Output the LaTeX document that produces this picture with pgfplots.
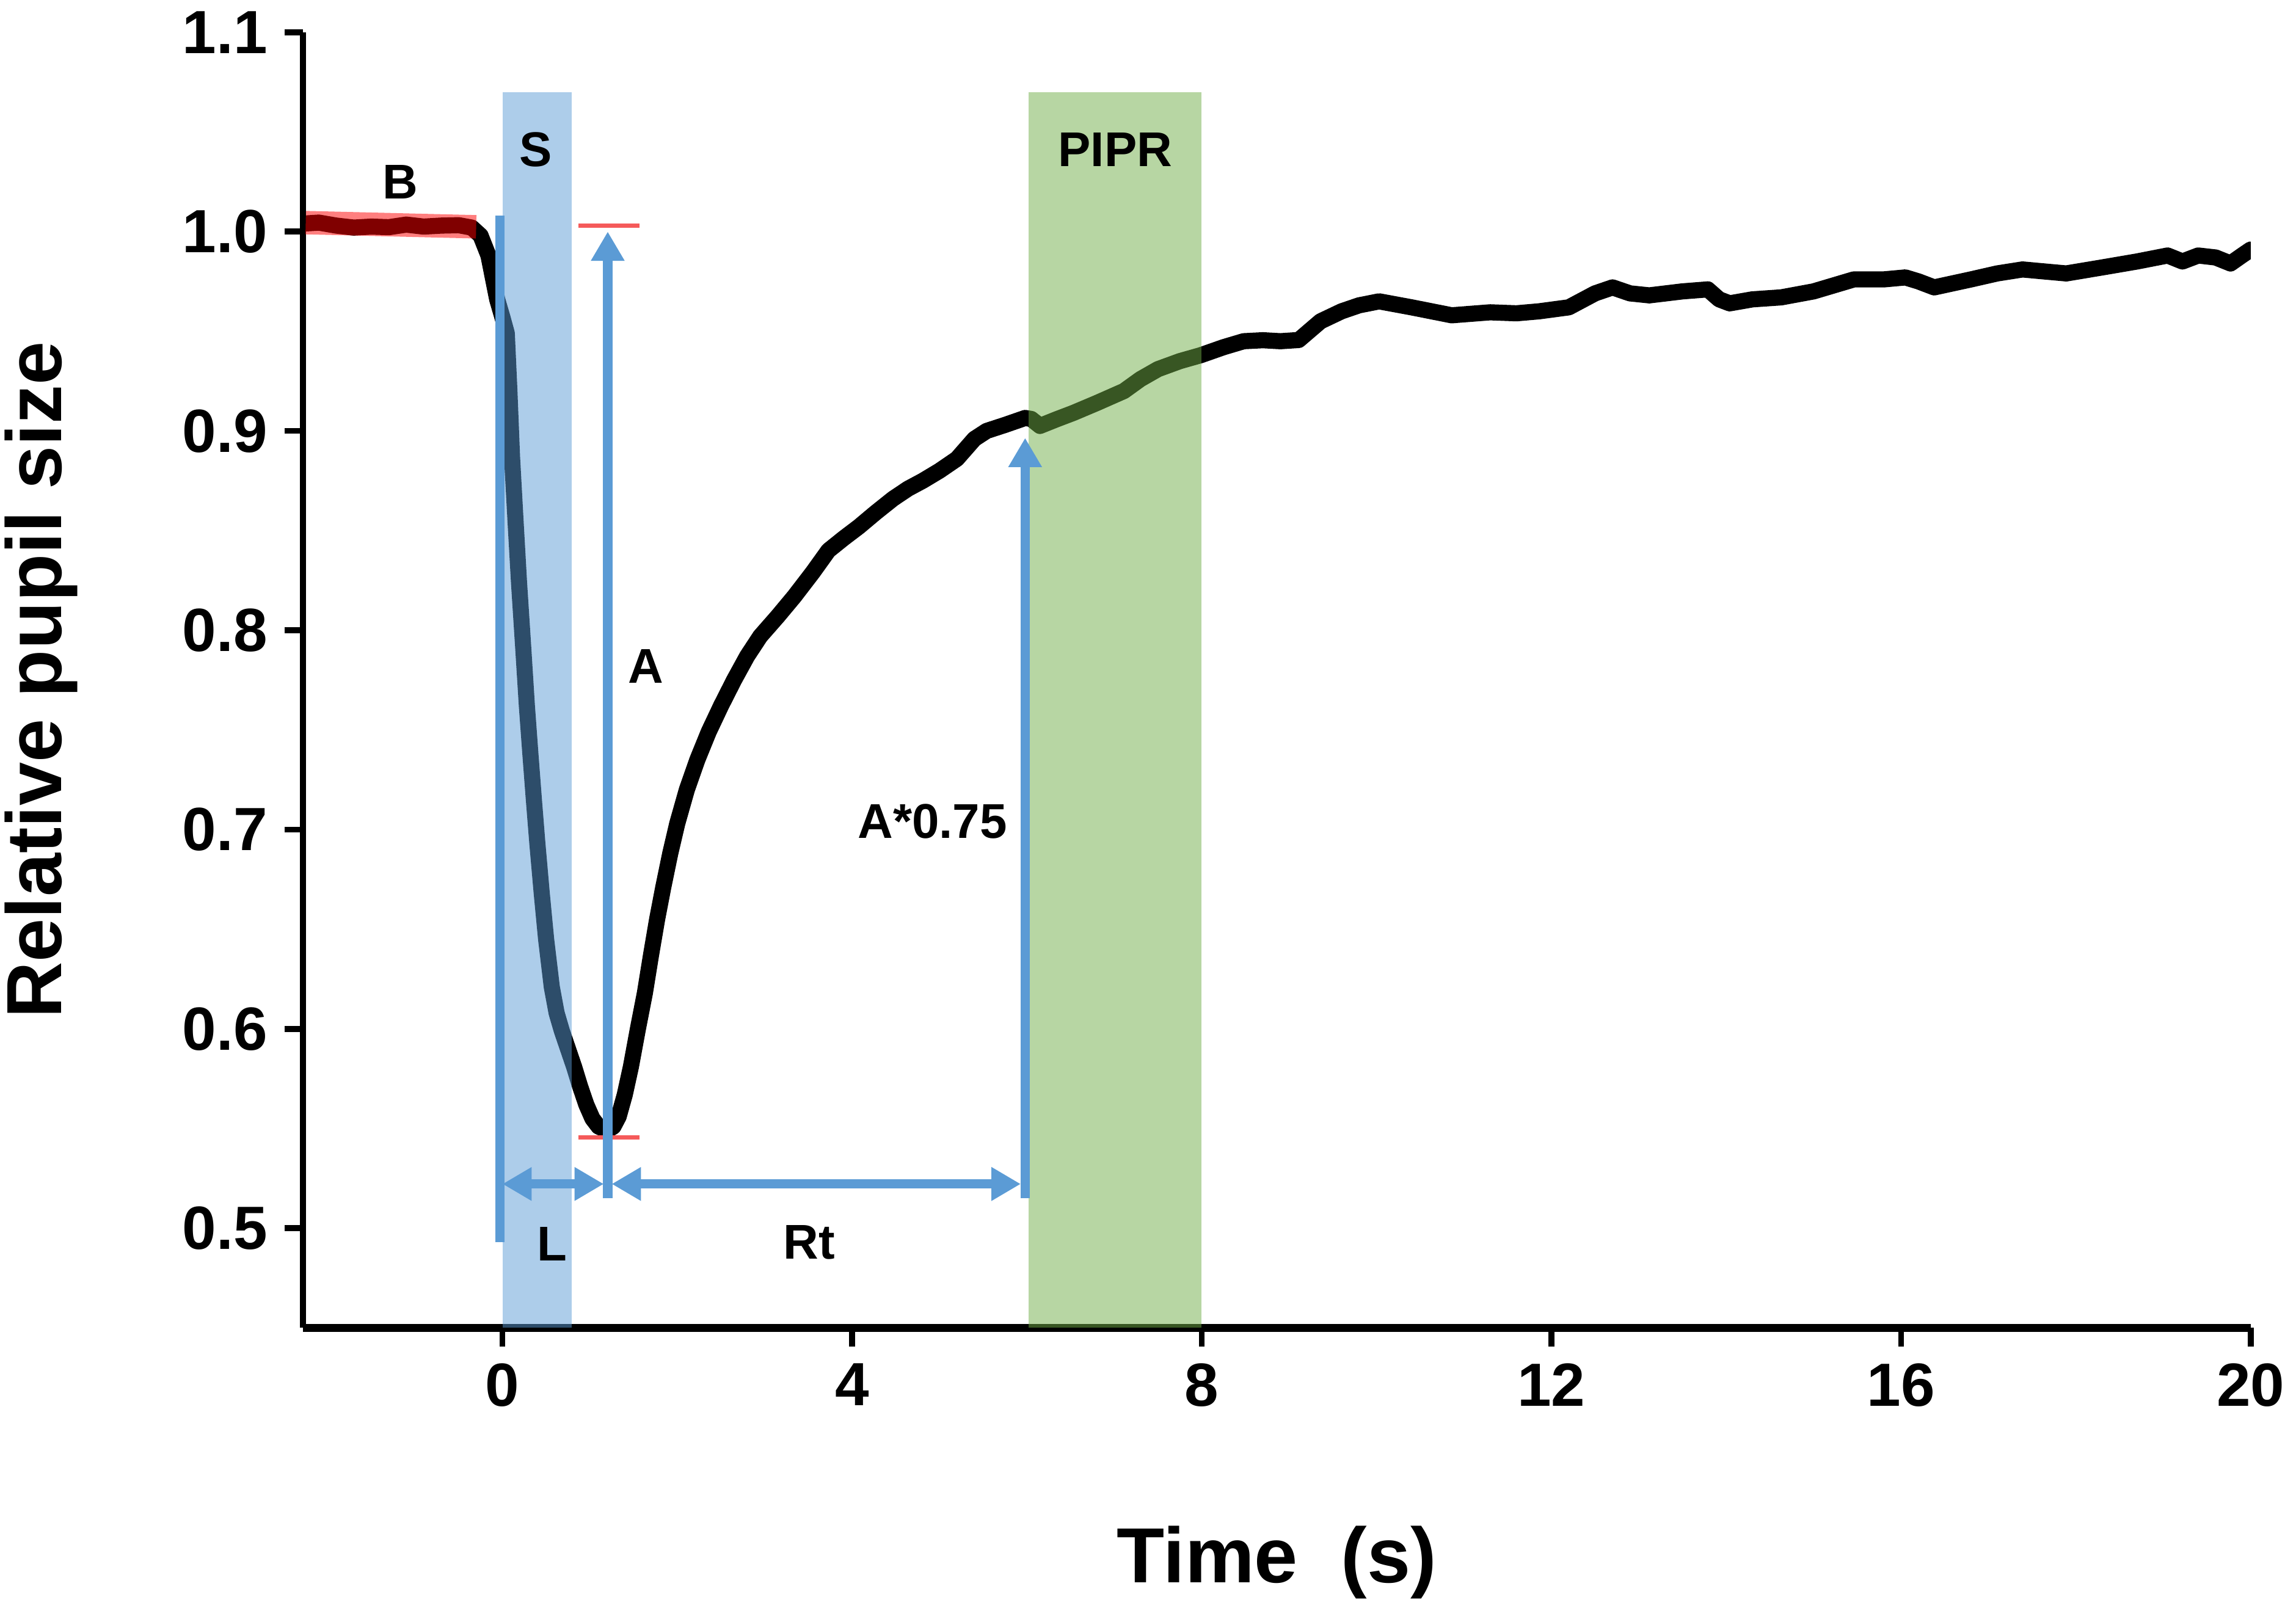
\documentclass[border=0pt]{standalone}
\usepackage{fontspec}
\setmainfont{Liberation Sans}
\usepackage{pgfplots}
\pgfplotsset{compat=1.18}
\usetikzlibrary{arrows.meta}
\definecolor{ablue}{HTML}{5B9BD5}
\definecolor{agreen}{HTML}{70AD47}
\definecolor{ared}{RGB}{245,90,90}
\begin{document}
\begin{tikzpicture}
\useasboundingbox (0,0) rectangle (470.4pt,330pt);
\begin{axis}[
  at={(62.1pt,57.9pt)}, anchor=south west,
  scale only axis, width=399pt, height=265.5pt,
  xmin=-2.28, xmax=20, ymin=0.45, ymax=1.1,
  axis lines*=left,
  x axis line style={line width=1.7pt},
  y axis line style={line width=1.3pt},
  xtick={0,4,8,12,16,20},
  ytick={0.5,0.6,0.7,0.8,0.9,1.0,1.1},
  tick align=outside, major tick length=3.8pt,
  tick style={line width=1.2pt, black},
  /pgf/number format/assume math mode=true,
  yticklabel style={/pgf/number format/fixed, /pgf/number format/fixed zerofill, /pgf/number format/precision=1},
  ticklabel style={font=\bfseries\fontsize{12.5}{15}\selectfont},
  xlabel={Time\ \ (s)}, ylabel={Relative pupil size},
  label style={font=\bfseries\fontsize{16}{19}\selectfont},
  xlabel style={at={(axis description cs:0.5,-0.1808)}, anchor=center},
  ylabel style={at={(axis description cs:-0.1346,0.5)}, anchor=center},
]
% pupil trace
\addplot[black, line width=3.3pt, line join=round, line cap=round] coordinates {
(-2.28,1.004) (-2.1,1.0045) (-1.9,1.003) (-1.7,1.002) (-1.5,1.0025) (-1.3,1.0022)
(-1.1,1.0035) (-0.9,1.0025) (-0.7,1.003) (-0.5,1.0032) (-0.35,1.002) (-0.25,0.998)
(-0.16,0.988) (-0.06,0.966) (0.0,0.957) (0.05,0.949) (0.08,0.920) (0.11,0.887)
(0.15,0.855) (0.19,0.824) (0.24,0.790) (0.28,0.762) (0.32,0.738) (0.36,0.715)
(0.40,0.693) (0.45,0.668) (0.50,0.645) (0.565,0.621) (0.62,0.608) (0.68,0.599)
(0.75,0.590) (0.82,0.581) (0.89,0.571) (0.96,0.562) (1.03,0.555) (1.10,0.551)
(1.20,0.549) (1.27,0.551) (1.33,0.556) (1.40,0.567) (1.47,0.581) (1.55,0.600)
(1.63,0.618) (1.70,0.637) (1.77,0.655) (1.84,0.671) (1.92,0.688) (2.00,0.703)
(2.11,0.720) (2.23,0.735) (2.36,0.749) (2.50,0.762) (2.65,0.775) (2.80,0.787)
(2.95,0.797) (3.15,0.807) (3.34,0.817) (3.55,0.829) (3.73,0.840) (3.90,0.846)
(4.08,0.852) (4.27,0.859) (4.47,0.866) (4.64,0.871) (4.81,0.875) (5.00,0.880)
(5.20,0.886) (5.30,0.891) (5.40,0.896) (5.54,0.900) (5.75,0.903) (5.98,0.9065)
(6.05,0.906) (6.15,0.9025) (6.35,0.906) (6.53,0.909) (6.80,0.914) (7.11,0.920)
(7.30,0.926) (7.50,0.931) (7.75,0.935) (7.99,0.938) (8.25,0.942) (8.48,0.945)
(8.7,0.9455) (8.9,0.945) (9.11,0.9456) (9.36,0.955) (9.6,0.960) (9.8,0.963)
(10.03,0.965) (10.4,0.962) (10.86,0.958) (11.3,0.9595) (11.6,0.959) (11.86,0.960)
(12.2,0.962) (12.5,0.969) (12.70,0.972) (12.9,0.969) (13.12,0.968) (13.5,0.970)
(13.79,0.971) (13.92,0.966) (14.04,0.964) (14.3,0.966) (14.63,0.967) (15.0,0.970)
(15.46,0.976) (15.8,0.976) (16.05,0.977) (16.2,0.975) (16.38,0.972) (16.8,0.976)
(17.1,0.979) (17.39,0.981) (17.89,0.979) (18.3,0.982) (18.7,0.985) (19.05,0.988)
(19.22,0.985) (19.4,0.988) (19.6,0.987) (19.77,0.984) (19.9,0.988) (20.0,0.991)
};
% baseline band
\addplot[red, opacity=0.5, line width=4.8pt] coordinates {(-2.25,1.0045) (-0.3,1.0024)};
% stimulus and PIPR windows
\addplot[fill=ablue, fill opacity=0.5, draw=none] coordinates {(0,0.45) (0.79,0.45) (0.79,1.07) (0,1.07)};
\addplot[fill=agreen, fill opacity=0.5, draw=none] coordinates {(6.02,0.45) (8.0,0.45) (8.0,1.07) (6.02,1.07)};
% red reference lines
\addplot[ared, line width=0.9pt] coordinates {(0.87,1.003) (1.57,1.003)};
\addplot[ared, line width=0.9pt] coordinates {(0.87,0.5455) (1.57,0.5455)};
% blue annotations
\addplot[ablue, line width=1.9pt] coordinates {(-0.03,0.493) (-0.03,1.008)};
\addplot[ablue, line width=1.9pt, -{Triangle[width=6.5pt,length=6pt]}] coordinates {(1.205,0.515) (1.205,1.0)};
\addplot[ablue, line width=1.9pt, -{Triangle[width=6.5pt,length=6pt]}] coordinates {(5.98,0.515) (5.98,0.8965)};
\addplot[ablue, line width=1.9pt, {Triangle[width=6.5pt,length=6pt]}-{Triangle[width=6.5pt,length=6pt]}] coordinates {(0.0,0.5222) (1.16,0.5222)};
\addplot[ablue, line width=1.9pt, {Triangle[width=6.5pt,length=6pt]}-{Triangle[width=6.5pt,length=6pt]}] coordinates {(1.25,0.5222) (5.93,0.5222)};
% labels
\node[font=\bfseries\fontsize{10}{12}\selectfont] at (axis cs:-1.17,1.025) {B};
\node[font=\bfseries\fontsize{10}{12}\selectfont] at (axis cs:0.385,1.041) {S};
\node[font=\bfseries\fontsize{10}{12}\selectfont] at (axis cs:7.01,1.041) {PIPR};
\node[font=\bfseries\fontsize{10}{12}\selectfont] at (axis cs:1.64,0.782) {A};
\node[font=\bfseries\fontsize{10}{12}\selectfont] at (axis cs:4.92,0.704) {A*0.75};
\node[font=\bfseries\fontsize{10}{12}\selectfont] at (axis cs:0.57,0.492) {L};
\node[font=\bfseries\fontsize{10}{12}\selectfont] at (axis cs:3.51,0.493) {Rt};
\end{axis}
\end{tikzpicture}
\end{document}
